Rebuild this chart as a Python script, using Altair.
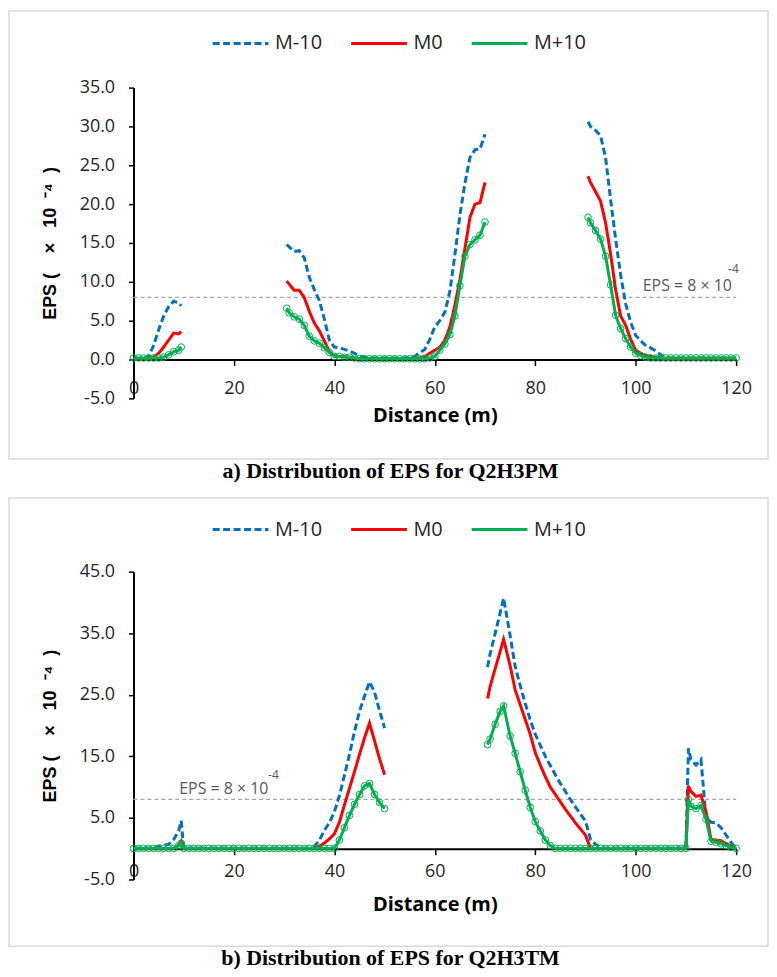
import altair as alt
import pandas as pd

SERIES = ["M-10", "M0", "M+10"]
COLORS = ["#0070C0", "#FF0000", "#00B050"]
DASHES = [[7, 3.5], [1, 0], [1, 0]]

# ---------------- panel a : Q2H3PM ----------------
A1_X = [0, 1, 2, 3, 4, 5, 6, 7, 8, 9, 9.5]
A1_M10 = [0.1, 0.1, 0.2, 0.4, 1.8, 3.8, 5.6, 6.8, 7.5, 7.3, 6.9]
A1_M0 = [0.1, 0.1, 0.1, 0.1, 0.3, 0.8, 1.6, 2.5, 3.4, 3.3, 3.6]
A1_P10 = [0.2, 0.2, 0.2, 0.2, 0.2, 0.2, 0.3, 0.6, 1.0, 1.2, 1.6]

A2_X = [30.5, 31, 32, 33, 34, 35, 36, 37, 38, 39,
        40, 41, 42, 43, 44, 45, 46, 47, 48, 49,
        50, 51, 52, 53, 54, 55, 56, 57, 58, 59,
        60, 61, 62, 63, 64, 65, 66, 67, 68, 69, 70]
A2_M10 = [14.8, 14.5, 13.9, 14.0, 13.1, 10.6, 9.0, 7.6, 5.2, 2.5,
          1.6, 1.5, 1.3, 1.1, 0.8, 0.5, 0.3, 0.2, 0.2, 0.2,
          0.2, 0.2, 0.2, 0.2, 0.2, 0.3, 0.4, 0.9, 1.3, 2.6,
          4.2, 5.0, 6.1, 8.8, 13.5, 18.6, 22.7, 26.0, 27.0, 27.1, 29.0]
A2_M0 = [10.1, 9.7, 8.9, 8.9, 8.0, 6.2, 4.7, 3.7, 2.4, 1.0,
         0.5, 0.4, 0.4, 0.3, 0.2, 0.1, 0.1, 0.1, 0.1, 0.1,
         0.1, 0.1, 0.1, 0.1, 0.1, 0.1, 0.1, 0.2, 0.4, 0.8,
         1.2, 1.6, 2.5, 4.2, 7.0, 10.3, 14.3, 18.3, 20.0, 20.2, 22.8]
A2_P10 = [6.6, 6.0, 5.5, 5.2, 4.4, 3.0, 2.4, 2.1, 1.5, 0.9,
          0.4, 0.4, 0.3, 0.3, 0.2, 0.1, 0.1, 0.1, 0.1, 0.1,
          0.1, 0.1, 0.1, 0.1, 0.1, 0.1, 0.1, 0.1, 0.1, 0.2,
          0.4, 1.2, 2.0, 3.2, 5.6, 9.5, 13.3, 14.8, 15.4, 16.0, 17.7]

A3_X = [90.5, 91, 92, 93, 94, 95, 96, 97, 98, 99,
        100, 101, 102, 103, 104, 105, 106, 107, 108, 109,
        110, 111, 112, 113, 114, 115, 116, 117, 118, 119, 120]
A3_M10 = [30.6, 30.0, 29.5, 28.8, 26.0, 20.6, 15.5, 10.9, 7.2, 4.8,
          3.1, 2.4, 1.8, 1.5, 1.1, 0.6, 0.3, 0.2, 0.2, 0.2,
          0.2, 0.2, 0.2, 0.2, 0.2, 0.2, 0.2, 0.2, 0.2, 0.2, 0.2]
A3_M0 = [23.6, 22.8, 21.6, 20.4, 17.6, 13.6, 9.0, 5.6, 4.4, 2.6,
         1.2, 0.8, 0.5, 0.4, 0.3, 0.2, 0.1, 0.1, 0.1, 0.1,
         0.1, 0.1, 0.1, 0.1, 0.1, 0.1, 0.1, 0.1, 0.1, 0.1, 0.1]
A3_P10 = [18.3, 17.6, 16.6, 15.5, 13.3, 9.6, 5.7, 4.0, 2.7, 1.6,
          0.8, 0.5, 0.3, 0.2, 0.2, 0.2, 0.2, 0.2, 0.2, 0.2,
          0.2, 0.2, 0.2, 0.2, 0.2, 0.2, 0.2, 0.2, 0.2, 0.2, 0.2]

# ---------------- panel b : Q2H3TM ----------------
B1_X = [0, 1, 2, 3, 4, 5, 6, 7, 8, 9, 9.5,
        10, 11, 12, 13, 14, 15, 16, 17, 18, 19,
        20, 21, 22, 23, 24, 25, 26, 27, 28, 29,
        30, 31, 32, 33, 34, 35, 36, 37, 38, 39,
        40, 41, 42, 43, 44, 45, 46, 47, 48, 49, 50]
B1_M10 = [0.1, 0.1, 0.1, 0.1, 0.1, 0.4, 0.6, 0.7, 1.5, 2.9, 4.5,
          0.1, 0.1, 0.1, 0.1, 0.1, 0.1, 0.1, 0.1, 0.1, 0.1,
          0.1, 0.1, 0.1, 0.1, 0.1, 0.1, 0.1, 0.1, 0.1, 0.1,
          0.1, 0.1, 0.1, 0.1, 0.1, 0.1, 0.4, 1.3, 3.0, 4.2,
          6.0, 8.6, 11.9, 15.3, 19.0, 22.3, 24.8, 27.1, 25.4, 22.4, 19.6]
B1_M0 = [0.05, 0.05, 0.05, 0.05, 0.05, 0.05, 0.05, 0.05, 0.05, 0.6, 1.2,
         0.05, 0.05, 0.05, 0.05, 0.05, 0.05, 0.05, 0.05, 0.05, 0.05,
         0.05, 0.05, 0.05, 0.05, 0.05, 0.05, 0.05, 0.05, 0.05, 0.05,
         0.05, 0.05, 0.05, 0.05, 0.05, 0.05, 0.05, 0.4, 0.9, 1.6,
         2.4, 4.3, 7.1, 9.8, 12.5, 15.3, 18.0, 20.4, 17.5, 14.6, 12.0]
B1_P10 = [0.05, 0.05, 0.05, 0.05, 0.05, 0.05, 0.05, 0.05, 0.05, 0.5, 0.9,
          0.05, 0.05, 0.05, 0.05, 0.05, 0.05, 0.05, 0.05, 0.05, 0.05,
          0.05, 0.05, 0.05, 0.05, 0.05, 0.05, 0.05, 0.05, 0.05, 0.05,
          0.05, 0.05, 0.05, 0.05, 0.05, 0.05, 0.05, 0.05, 0.05, 0.05,
          0.05, 1.4, 3.4, 5.4, 7.2, 8.8, 10.2, 10.6, 8.8, 7.5, 6.5]

B2_X = [70.5, 71, 72, 73, 73.7, 75,
        76, 77, 78, 79, 80, 81, 82, 83, 84, 85, 86, 87, 88, 89,
        90, 91, 92, 93, 94, 95, 96, 97, 98, 99,
        100, 101, 102, 103, 104, 105, 106, 107, 108, 109,
        110, 110.5, 111, 112, 113, 114, 115, 116, 117, 118, 119, 120]
B2_M10 = [29.5, 31.6, 34.9, 38.3, 40.7, 34.6,
          29.6, 26.5, 23.6, 20.9, 18.6, 16.8, 15.0, 13.5, 12.0, 10.6, 9.3, 8.0, 6.8, 5.6,
          4.5, 1.5, 0.7, 0.2, 0.1, 0.1, 0.1, 0.1, 0.1, 0.1,
          0.1, 0.1, 0.1, 0.1, 0.1, 0.1, 0.1, 0.1, 0.1, 0.1,
          0.1, 16.3, 14.5, 13.6, 14.5, 5.0, 4.3, 4.2, 3.4, 2.2, 1.0, 0.1]
B2_M0 = [24.4, 26.3, 29.2, 32.0, 34.0, 29.7,
         25.8, 23.4, 21.0, 18.6, 15.6, 13.6, 11.7, 10.0, 8.8, 7.6, 6.4, 5.3, 4.2, 3.2,
         2.2, 0.05, 0.05, 0.05, 0.05, 0.05, 0.05, 0.05, 0.05, 0.05,
         0.05, 0.05, 0.05, 0.05, 0.05, 0.05, 0.05, 0.05, 0.05, 0.05,
         0.05, 10.2, 9.3, 8.5, 8.7, 6.0, 1.5, 1.4, 1.3, 0.8, 0.4, 0.05]
B2_P10 = [16.9, 17.8, 20.2, 22.3, 23.2, 18.3,
          15.5, 12.5, 9.5, 6.7, 4.4, 2.9, 1.4, 0.5, 0.05, 0.05, 0.05, 0.05, 0.05, 0.05,
          0.05, 0.05, 0.05, 0.05, 0.05, 0.05, 0.05, 0.05, 0.05, 0.05,
          0.05, 0.05, 0.05, 0.05, 0.05, 0.05, 0.05, 0.05, 0.05, 0.05,
          0.05, 8.0, 6.9, 6.5, 7.0, 4.8, 1.2, 1.0, 0.8, 0.5, 0.2, 0.05]

X_TICKS = [0, 20, 40, 60, 80, 100, 120]
A_Y_TICKS = [-5, 0, 5, 10, 15, 20, 25, 30, 35]
B_Y_TICKS = [-5, 5, 15, 25, 35, 45]
THRESHOLD = 8

A_NOTE_X = [101.4, 118.4]
A_NOTE_Y = [9.5, 11.6]
B_NOTE_X = [9.1, 26.8]
B_NOTE_Y = [9.7, 11.9]
NOTE_TEXT = ["EPS = 8 × 10", "-4"]
NOTE_SIZE = [16, 12]

CAPTIONS = ["a) Distribution of EPS for Q2H3PM", "b) Distribution of EPS for Q2H3TM"]
NB = "\u00a0"
Y_TITLE = "EPS" + NB + "(" + NB * 4 + "×" + NB * 3 + "10" + NB * 2 + "⁻⁴" + NB * 2 + ")"


def build_df(segments):
    rows = []
    for k, name in enumerate(SERIES):
        for s, seg in enumerate(segments):
            xs = seg[0]
            ys = seg[1 + k]
            for x, y in zip(xs, ys):
                rows.append({"x": x, "y": y, "series": name, "seg": s})
    return pd.DataFrame(rows)


def make_panel(df, ymax, yticks, W, H, box, cap_y, leg_y, notes_x, notes_y, caption,
               lab_pad, title_pad):
    xoff = H * 5.0 / (ymax + 5.0)
    xs = alt.Scale(domain=[0, 120], nice=False, zero=False)
    ys = alt.Scale(domain=[-5, ymax], nice=False, zero=False)

    legend = alt.Legend(
        orient="none", legendX=78, legendY=leg_y, direction="horizontal", title=None,
        symbolType="M-1,0L1,0", symbolSize=3136, symbolStrokeWidth=3,
        labelFont="Open Sans", labelFontSize=20, labelColor="#262626",
        labelOffset=5, columnPadding=22,
    )

    x_axis = alt.Axis(
        values=X_TICKS, format="d", title="Distance (m)", offset=-xoff,
        grid=False, domainColor="#000000", domainWidth=2, tickColor="#000000",
        tickWidth=1.5, tickSize=6, labelFont="Open Sans", labelFontSize=18,
        labelColor="#262626", labelPadding=lab_pad, titleFont="Open Sans",
        titleFontSize=20, titleFontWeight="bold", titleColor="#000000",
        titlePadding=title_pad, labelFlush=False, labelOverlap=False)
    y_axis = alt.Axis(
        values=yticks, labelExpr="replace(format(datum.value, '.1f'), '\u2212', '-')",
        title=Y_TITLE, grid=False, domainColor="#000000", domainWidth=2,
        tickColor="#000000", tickWidth=1.5, tickSize=5, labelFont="Open Sans",
        labelFontSize=18, labelColor="#262626", labelPadding=14, labelOverlap=False,
        titleFont="Liberation Sans", titleFontSize=18, titleFontWeight="bold",
        titleColor="#000000", titlePadding=20)

    box_layer = alt.Chart(alt.Data(values=[{}])).mark_rect(
        fill="white", fillOpacity=0, stroke="#D9D9D9", strokeWidth=1.5
    ).encode(x=alt.value(box[0]), x2=alt.value(box[1]), y=alt.value(box[2]), y2=alt.value(box[3]))

    thr = alt.Chart(alt.Data(values=[{}])).mark_rule(
        color="#A6A6A6", strokeDash=[4, 3], strokeWidth=1.3
    ).encode(x=alt.X(datum=0, scale=xs, axis=x_axis), x2=alt.datum(120),
             y=alt.Y(datum=THRESHOLD, scale=ys, axis=y_axis))

    lines = alt.Chart(df).mark_line(strokeWidth=3).encode(
        x=alt.X("x:Q", scale=xs, axis=x_axis), y=alt.Y("y:Q", scale=ys, axis=y_axis),
        color=alt.Color("series:N", scale=alt.Scale(domain=SERIES, range=COLORS), legend=legend),
        strokeDash=alt.StrokeDash("series:N", scale=alt.Scale(domain=SERIES, range=DASHES), legend=legend),
        detail="seg:N",
        order=alt.Order("x:Q"),
    )

    pts = alt.Chart(df).transform_filter(alt.datum.series == "M+10").mark_point(
        filled=False, size=45, strokeWidth=1, color="#00B050", opacity=1, shape="circle"
    ).encode(x=alt.X("x:Q", scale=xs, axis=x_axis), y=alt.Y("y:Q", scale=ys, axis=y_axis))

    notes = alt.Chart(pd.DataFrame({"x": notes_x, "y": notes_y, "t": NOTE_TEXT, "s": NOTE_SIZE})).mark_text(
        align="left", baseline="middle", font="Open Sans", color="#595959"
    ).encode(x=alt.X("x:Q", scale=xs, axis=x_axis), y=alt.Y("y:Q", scale=ys, axis=y_axis), text="t:N",
             size=alt.Size("s:Q", scale=None, legend=None))

    cap = alt.Chart(alt.Data(values=[{}])).mark_text(
        text=caption, font="Liberation Serif", fontWeight="bold", fontSize=22,
        color="#000000", align="center", baseline="middle"
    ).encode(x=alt.value(258), y=alt.value(cap_y))

    return alt.layer(box_layer, thr, lines, pts, notes, cap).properties(width=W, height=H)


df_a = build_df([(A1_X, A1_M10, A1_M0, A1_P10), (A2_X, A2_M10, A2_M0, A2_P10), (A3_X, A3_M10, A3_M0, A3_P10)])
df_b = build_df([(B1_X, B1_M10, B1_M0, B1_P10), (B2_X, B2_M10, B2_M0, B2_P10)])

panel_a = make_panel(df_a, 35, A_Y_TICKS, 605, 312, [-125, 637, -77, 373], 385, -74,
                     A_NOTE_X, A_NOTE_Y, CAPTIONS[0], 14, 8)
panel_b = make_panel(df_b, 45, B_Y_TICKS, 605, 309, [-125, 637, -74, 376], 388, -72,
                     B_NOTE_X, B_NOTE_Y, CAPTIONS[1], 8, 14)

chart = alt.vconcat(panel_a, panel_b, spacing=15).resolve_scale(
    color="independent", strokeDash="independent", x="independent", y="independent"
).resolve_legend(color="independent", strokeDash="independent").properties(
    padding=0
).configure_view(stroke=None).configure_axis(labelOverlap=False)

chart.save("out.html", embed_options={"renderer": "svg", "actions": False})
